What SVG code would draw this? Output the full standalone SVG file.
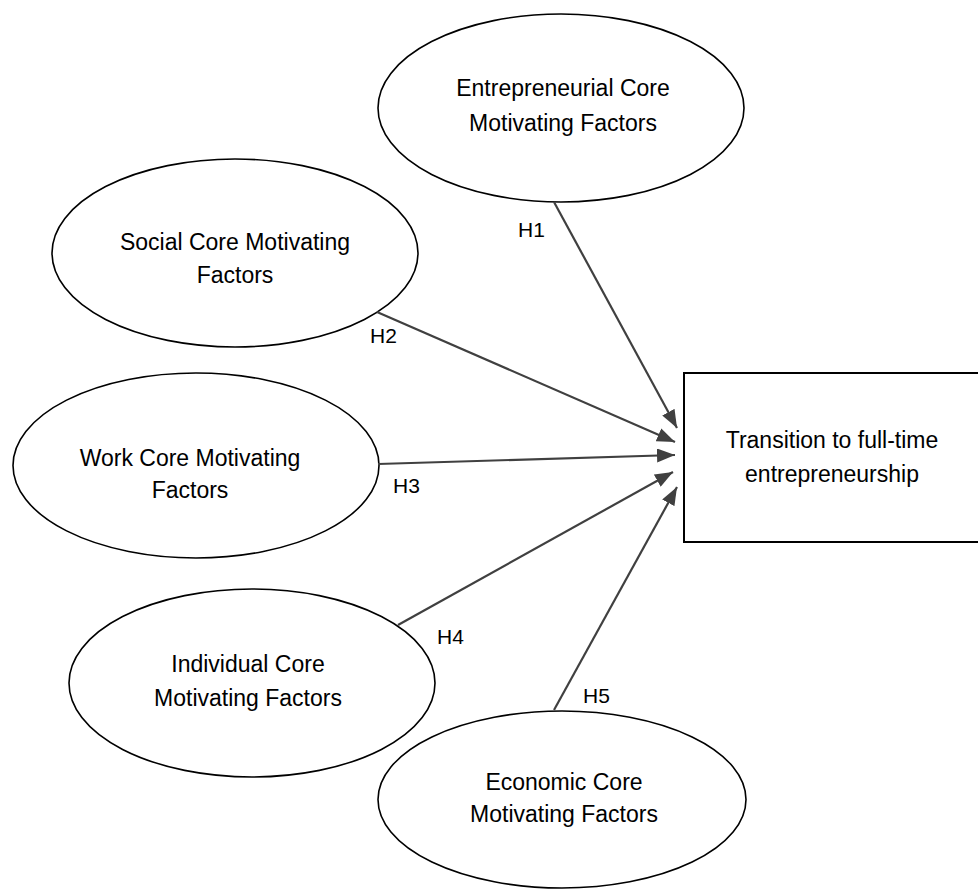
<svg xmlns="http://www.w3.org/2000/svg" width="978" height="891" viewBox="0 0 978 891">
<style>
.node ellipse{fill:#fff;stroke:#000;stroke-width:1.6}
.node rect{fill:#fff;stroke:#000;stroke-width:2}
.t{font-family:"Liberation Sans",Arial,sans-serif;font-size:23px;fill:#000;text-anchor:middle}
.lbl{font-family:"Liberation Sans",Arial,sans-serif;font-size:21px;fill:#000}
.edge{stroke:#404040;stroke-width:2.2;fill:none;marker-end:url(#ah)}
</style>
<defs>
<marker id="ah" markerUnits="userSpaceOnUse" markerWidth="18" markerHeight="14" viewBox="0 0 18 14" refX="18" refY="7" orient="auto">
<path d="M0,0 L18,7 L0,14 z" fill="#404040"/>
</marker>
</defs>
<rect width="978" height="891" fill="#fff"/>
<g id="n-entre" class="node">
<ellipse cx="561" cy="108" rx="183" ry="94"/>
<text class="t" x="563" y="96">Entrepreneurial Core</text>
<text class="t" x="563" y="131">Motivating Factors</text>
</g>
<g id="n-social" class="node">
<ellipse cx="235" cy="253" rx="183" ry="94"/>
<text class="t" x="235" y="250">Social Core Motivating</text>
<text class="t" x="235" y="283">Factors</text>
</g>
<g id="n-work" class="node">
<ellipse cx="196" cy="465.5" rx="183" ry="92.5"/>
<text class="t" x="190" y="466">Work Core Motivating</text>
<text class="t" x="190" y="498">Factors</text>
</g>
<g id="n-indiv" class="node">
<ellipse cx="252" cy="683" rx="183" ry="94"/>
<text class="t" x="248" y="672">Individual Core</text>
<text class="t" x="248" y="706">Motivating Factors</text>
</g>
<g id="n-econ" class="node">
<ellipse cx="562" cy="799.5" rx="184" ry="88.5"/>
<text class="t" x="564" y="790">Economic Core</text>
<text class="t" x="564" y="822">Motivating Factors</text>
</g>
<g id="n-trans" class="node">
<rect x="684" y="373" width="300" height="169"/>
<text class="t" x="832" y="448">Transition to full-time</text>
<text class="t" x="832" y="482">entrepreneurship</text>
</g>
<g id="connectors">
<line class="edge" x1="554" y1="202" x2="677" y2="428"/>
<line class="edge" x1="377" y1="312" x2="675" y2="442"/>
<line class="edge" x1="378" y1="464" x2="675" y2="455"/>
<line class="edge" x1="398" y1="625" x2="673" y2="472"/>
<line class="edge" x1="554" y1="710" x2="677" y2="487"/>
<text class="lbl" x="518" y="237">H1</text>
<text class="lbl" x="370" y="343">H2</text>
<text class="lbl" x="393" y="493">H3</text>
<text class="lbl" x="437" y="644">H4</text>
<text class="lbl" x="583" y="703">H5</text>
</g>
</svg>
